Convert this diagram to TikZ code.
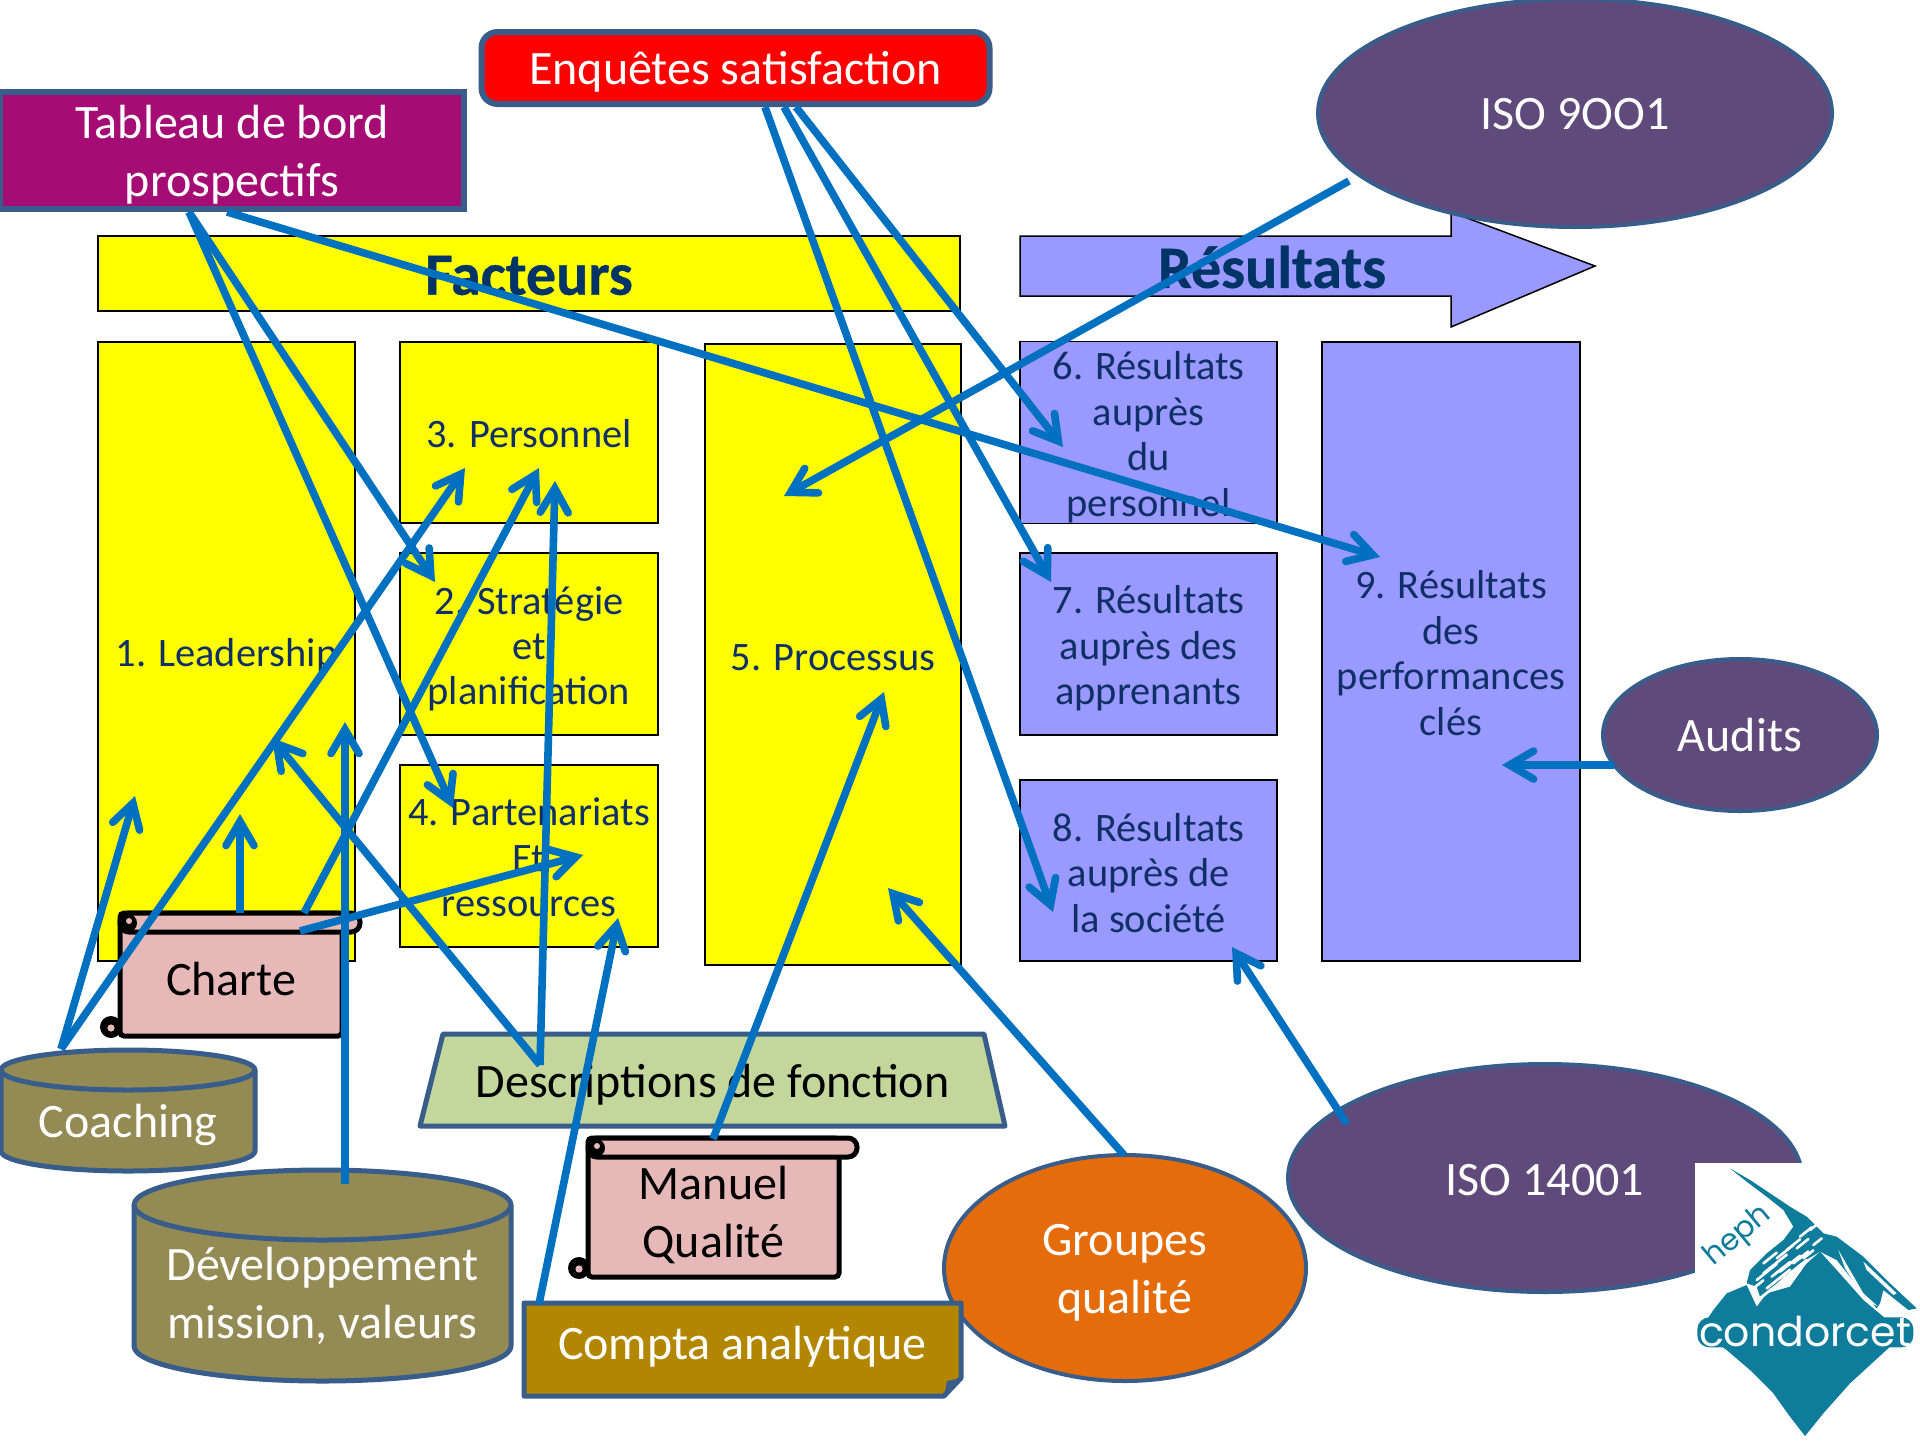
\documentclass[tikz,border=0pt]{standalone}
\usepackage{fontspec}
\setmainfont{Carlito}
\newfontfamily\logofont{Poppins}
\newfontfamily\headfont[BoldFeatures={FakeBold=0.6}]{Carlito}
\usetikzlibrary{arrows.meta,calc,shapes.geometric}
\definecolor{conn}{HTML}{0070C0}
\definecolor{rim}{HTML}{385D8A}
\definecolor{navy}{HTML}{0F2F66}
\definecolor{boldnavy}{HTML}{003366}
\definecolor{brightyellow}{HTML}{FFFF00}
\definecolor{lilac}{HTML}{9999FF}
\definecolor{plum}{HTML}{604A7B}
\definecolor{olivebox}{HTML}{948A54}
\definecolor{rosebox}{HTML}{E6B8B7}
\definecolor{sage}{HTML}{C3D69B}
\definecolor{ochre}{HTML}{B38600}
\definecolor{orangebox}{HTML}{E46C0A}
\definecolor{magentabox}{HTML}{A50D74}
\definecolor{teallogo}{HTML}{0F7C9B}
\tikzset{
  every node/.style={inner sep=0pt,outer sep=0pt,align=center},
  smalltxt/.style={font=\fontsize{20.2}{22.7}\selectfont,text=navy},
  bigtxt/.style={font=\fontsize{24}{29}\selectfont},
  headtxt/.style={font=\fontsize{30}{34}\headfont\bfseries,text=boldnavy},
  yellowbox/.style={draw=black,line width=0.75pt,fill=brightyellow,smalltxt},
  lilacbox/.style={draw=black,line width=0.75pt,fill=lilac,smalltxt},
  planbox/.style={draw=rim,line width=3pt,bigtxt,text=white},
  oval/.style={draw=rim,line width=2pt,ellipse,bigtxt,text=white},
  solid shape/.style={draw=rim,line width=2.5pt,line join=round},
  scrollbody/.style={draw=black,line width=2.5pt,fill=rosebox,rounded corners=2pt,bigtxt,text=black},
  scrollpart/.style={draw=black,line width=2.5pt,fill=rosebox},
  flow/.style={draw=conn,line width=3.8pt,-{Straight Barb[length=12pt,width=14pt,line cap=round,line join=miter]}},
}
% text of a node, moved down by #1 without changing the node's size
\newcommand{\low}[2]{\raisebox{-#1}[\height][\depth]{\begin{tabular}{@{}c@{}}#2\end{tabular}}}
\newcommand{\scrolldeco}[1]{%
  \draw[scrollpart,rounded corners=4.5pt] ($(#1.north west)+(0,0)$) rectangle ($(#1.north east)+(18,19)$);
  \fill[black] ($(#1.north west)+(8,10)$) circle[radius=4.5pt];
  \fill[rosebox] ($(#1.north west)+(9,8)$) circle[radius=1.5pt];
  \fill[black] ($(#1.south west)+(-9,-9)$) circle[radius=5.5pt];
  \fill[rosebox] ($(#1.south west)+(-9,-8)$) circle[radius=1.8pt];
}
\begin{document}
\begin{tikzpicture}[x=0.5pt,y=-0.5pt]
\useasboundingbox (0,0) rectangle (1920,1440);
\fill[white] (0,0) rectangle (1920,1440);

% headers
\node[yellowbox,headtxt,minimum width=431pt,minimum height=37.5pt] (facteurs) at (529,273.5) {\low{3.8pt}{Facteurs}};
\draw[draw=black,line width=0.75pt,fill=lilac] (1020,236) -- (1451,236) -- (1451,212) -- (1595,266) -- (1451,327) -- (1451,296) -- (1020,296) -- cycle;
\node[headtxt] (resultats) at (1272,267) {Résultats};

% criteria boxes
\node[yellowbox,minimum width=128.5pt,minimum height=309.5pt] (box1) at (226.5,651.5) {\low{3pt}{1. Leadership}};
\node[yellowbox,minimum width=129pt,minimum height=90.5pt] (box3) at (529,432.5) {\low{3pt}{3. Personnel}};
\node[yellowbox,minimum width=129pt,minimum height=91pt] (box2) at (529,644) {\low{3.2pt}{2. Stratégie\\et\\planification}};
\node[yellowbox,minimum width=129pt,minimum height=91pt] (box4) at (529,856) {\low{3pt}{4. Partenariats\\Et\\ressources}};
\node[yellowbox,minimum width=128pt,minimum height=310.5pt] (box5) at (833,654.5) {\low{3.6pt}{5. Processus}};
\node[lilacbox,minimum width=128.5pt,minimum height=90.5pt] (box6) at (1148.5,432.5) {\low{3.2pt}{6. Résultats\\auprès\\du\\personnel}};
\node[lilacbox,minimum width=128.5pt,minimum height=91pt] (box7) at (1148.5,644) {\low{3pt}{7. Résultats\\auprès des\\apprenants}};
\node[lilacbox,minimum width=128.5pt,minimum height=90.5pt] (box8) at (1148.5,870.5) {\low{3.6pt}{8. Résultats\\auprès de\\la société}};
\node[lilacbox,minimum width=129pt,minimum height=309.5pt] (box9) at (1451,651.5) {\low{3.2pt}{9. Résultats\\des\\performances\\clés}};

% top tools
\node[planbox,fill=magentabox,minimum width=232pt,minimum height=58.5pt] (tb) at (232,150) {\low{2.7pt}{Tableau de bord\\prospectifs}};
\node[planbox,fill=red,rounded corners=8pt,minimum width=254pt,minimum height=36pt] (enq) at (735.5,68) {\low{2.4pt}{Enquêtes satisfaction}};

% ellipses
\node[oval,fill=plum,minimum width=257pt,minimum height=114pt] (iso9) at (1575,113) {\low{2.4pt}{ISO 9OO1}};
\node[oval,fill=plum,minimum width=137pt,minimum height=76pt] (audits) at (1740,735) {Audits};
\node[oval,fill=plum,minimum width=257pt,minimum height=114pt] (iso14) at (1545,1178) {\low{3pt}{ISO 14001}};
\node[oval,fill=orangebox,minimum width=181pt,minimum height=113pt] (groupes) at (1125,1268) {\low{2.6pt}{Groupes\\qualité}};

% scrolls
\node[scrollbody,minimum width=111pt,minimum height=61.5pt] (charte) at (231,974.5) {\low{4.8pt}{Charte}};
\scrolldeco{charte}
\node[scrollbody,minimum width=125.5pt,minimum height=69.5pt] (manuel) at (713.5,1207.5) {\low{4.5pt}{Manuel\\Qualité}};
\scrolldeco{manuel}

% cylinders
\draw[solid shape,fill=olivebox] (1,1070) -- (1,1151) arc[start angle=180,end angle=360,x radius=63.5pt,y radius=10pt] -- (255,1070) arc[start angle=0,end angle=180,x radius=63.5pt,y radius=10pt] -- cycle;
\draw[solid shape] (1,1070) arc[start angle=180,end angle=360,x radius=63.5pt,y radius=10pt];
\node[bigtxt,text=white,minimum width=127pt,minimum height=61pt] (coaching) at (128,1110) {\low{7.8pt}{Coaching}};
\draw[solid shape,fill=olivebox] (134,1205) -- (134,1346) arc[start angle=180,end angle=360,x radius=94.25pt,y radius=17.5pt] -- (511,1205) arc[start angle=0,end angle=180,x radius=94.25pt,y radius=17.5pt] -- cycle;
\draw[solid shape] (134,1205) arc[start angle=180,end angle=360,x radius=94.25pt,y radius=17.5pt];
\node[bigtxt,text=white,minimum width=188pt,minimum height=105pt] (dev) at (322.5,1275) {\low{11.6pt}{Développement\\mission, valeurs}};

% trapezium
\draw[solid shape,fill=sage] (420,1126) -- (443,1034) -- (984,1034) -- (1005,1126) -- cycle;
\node[bigtxt,text=black,minimum width=280pt,minimum height=46pt] (desc) at (712.5,1080) {\low{3pt}{Descriptions de fonction}};

% note
\draw[solid shape,fill=ochre] (524,1303) -- (961,1303) -- (961,1378) -- (944,1396) -- (524,1396) -- cycle;
\fill[rim] (961,1378) -- (947,1381) -- (944,1396) -- cycle;
\node[bigtxt,text=white,minimum width=218pt,minimum height=46pt] (compta) at (742.5,1345) {\low{1.2pt}{Compta analytique}};

% logo
\begin{scope}[shift={(1650,1130)},x=0.16667pt,y=-0.16667pt]
\fill[white] (135,100) rectangle (812,932);
\fill[teallogo] (510,365) -- (560,420) -- (640,510) -- (700,560) -- (750,610) -- (720,650) -- (600,760) -- (520,850) -- (465,918) -- (420,860) -- (370,790) -- (300,720) -- (230,660) -- (180,625) -- (150,600) -- (190,540) -- (230,490) -- (290,465) -- (320,530) -- (350,490) -- (420,470) -- (470,400) -- cycle;
\fill[teallogo] (240,115) -- (300,150) -- (360,190) -- (420,230) -- (470,260) -- (520,310) -- (560,320) -- (640,380) -- (720,460) -- (800,535) -- (775,540) -- (700,480) -- (690,520) -- (680,535) -- (640,490) -- (600,440) -- (560,390) -- (510,365) -- (450,400) -- (380,460) -- (330,500) -- (320,470) -- (290,460) -- (300,420) -- (350,370) -- (400,330) -- (430,290) -- (400,240) -- (350,200) -- (290,155) -- cycle;
\fill[white] (565,360) -- (640,490) -- (682,528) -- (650,515) -- (585,415) -- cycle;
\fill[white] (640,395) -- (740,490) -- (730,495) -- (650,420) -- cycle;
\foreach \sx/\sy/\sl in {320/450/60,340/430/70,365/440/55,390/425/60,350/475/70,395/450/75,430/400/45,425/430/50,380/385/50,410/360/40,440/355/35,460/385/30,450/320/35,480/300/30,490/345/25,340/400/40,310/475/30,360/350/35,330/505/35}{
  \draw[white,line width=1.3pt,line cap=round] (\sx,\sy) -- ++(\sl,-0.8*\sl);
}
\fill[teallogo,rounded corners=6pt] (142,562) rectangle (790,652);
\node[text=white,font=\logofont\fontsize{20.5}{24}\selectfont] (condorcet) at (465,603) {condorcet};
\node[text=teallogo,rotate=40,font=\logofont\fontsize{15}{18}\selectfont] (heph) at (265,318) {heph};
\end{scope}

% connectors
\draw[flow] ($(tb.center)+(-43,62)$) -- ($(box2.center)+(-94,-62)$);
\draw[flow] ($(tb.center)+(-43,62)$) -- ($(box4.center)+(-76,-48)$);
\draw[flow] ($(tb.center)+(-5,62)$) -- ($(box9.center)+(-71,-94.5)$);
\draw[flow] ($(enq.center)+(60.5,39)$) -- ($(box6.center)+(-85.5,14.5)$);
\draw[flow] ($(enq.center)+(48.5,39)$) -- ($(box7.center)+(-97.5,-62)$);
\draw[flow] ($(enq.center)+(29.5,39)$) -- ($(box8.center)+(-95.5,41.5)$);
\draw[flow] ($(iso9.center)+(-226,68)$) -- ($(box5.center)+(-49,-158.5)$);
\draw[flow] ($(coaching.center)+(-67,-61)$) -- ($(box1.center)+(-91.5,144.5)$);
\draw[flow] ($(coaching.center)+(-67,-61)$) -- ($(box3.center)+(-64,35.5)$);
\draw[flow] ($(charte.center)+(9,-61.5)$) -- ($(box1.center)+(13.5,162.5)$);
\draw[flow] ($(charte.center)+(73,-61.5)$) -- ($(box3.center)+(10,35.5)$);
\draw[flow] ($(charte.center)+(69,-43.5)$) -- ($(box4.center)+(54,-1)$);
\draw[flow] ($(dev.center)+(22.5,-91)$) -- ($(box1.center)+(118.5,70.5)$);
\draw[flow] ($(desc.center)+(-172.5,-15)$) -- ($(box1.center)+(45.5,86.5)$);
\draw[flow] ($(desc.center)+(-172.5,-15)$) -- ($(box3.center)+(26,48.5)$);
\draw[flow] ($(compta.center)+(-203.5,-41)$) -- ($(box4.center)+(89,62)$);
\draw[flow] ($(manuel.center)+(-0.5,-68.5)$) -- ($(box5.center)+(51,37.5)$);
\draw[flow] ($(groupes.center)+(-1,-113)$) -- ($(box5.center)+(55,233.5)$);
\draw[flow] ($(iso14.center)+(-198,-54)$) -- ($(box8.center)+(83.5,76.5)$);
\draw[flow] ($(audits.center)+(-126,30)$) -- ($(box9.center)+(51,113.5)$);
\end{tikzpicture}
\end{document}
